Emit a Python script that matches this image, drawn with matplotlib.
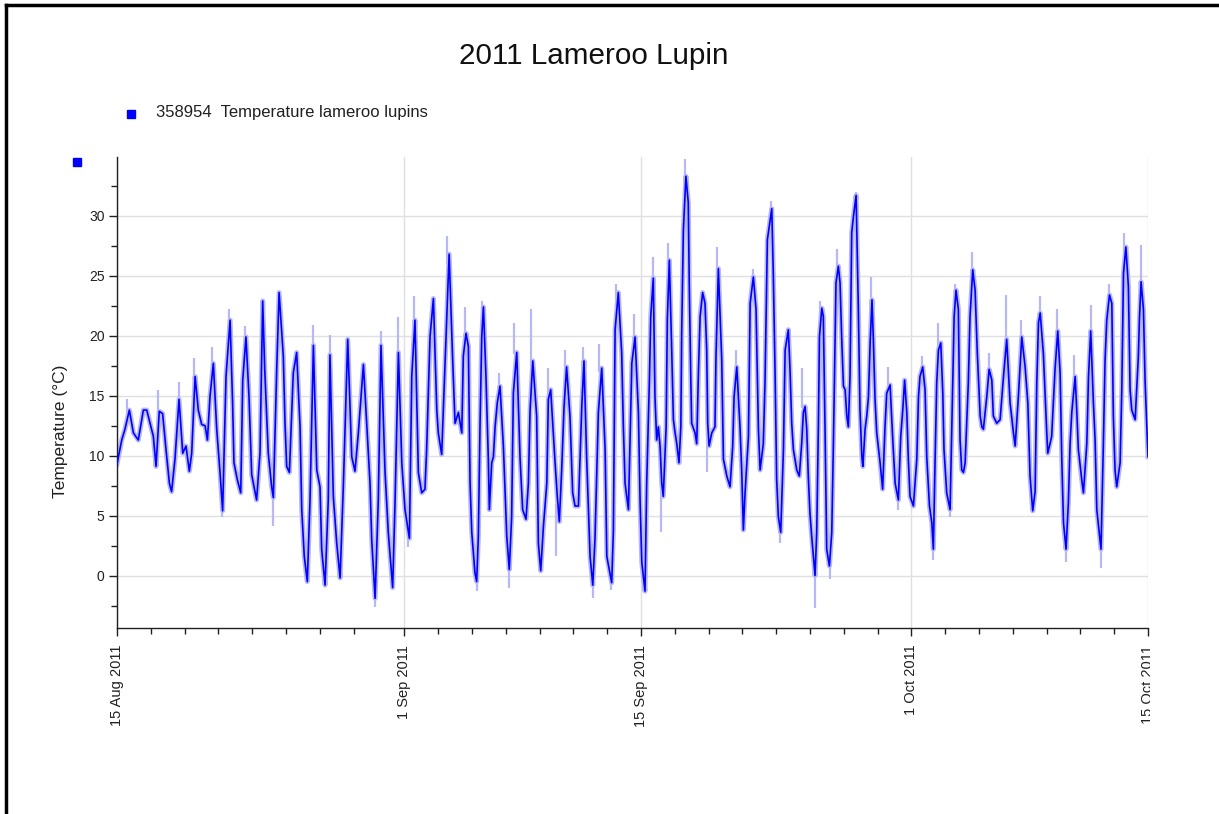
import numpy as np
import pandas as pd
import matplotlib
matplotlib.use("Agg")
import matplotlib.pyplot as plt
import matplotlib.dates as mdates
from matplotlib.lines import Line2D
from matplotlib.transforms import Bbox

plt.rcParams['font.family'] = ['Liberation Sans', 'DejaVu Sans']

start = pd.Timestamp('2011-08-15')

# knots of the logged series: days after 15 Aug 2011, temperature (C)
days = [0.00, 0.28, 0.47, 0.73, 0.97, 1.26, 1.56, 1.76, 2.15, 2.31, 2.50, 2.70, 2.90, 3.10, 3.23, 3.43,
        3.67, 3.89, 4.08, 4.28, 4.42, 4.62, 4.81, 5.01, 5.21, 5.35, 5.50, 5.70, 5.90, 6.09, 6.25, 6.45,
        6.69, 6.84, 6.92, 7.12, 7.32, 7.44, 7.63, 7.81, 7.97, 8.26, 8.46, 8.62, 8.74, 8.95, 9.15, 9.25,
        9.45, 9.59,
        9.84, 9.94, 10.04, 10.20, 10.43, 10.63, 10.83, 10.93, 11.08, 11.26, 11.42, 11.62, 11.82, 12.01,
        12.11, 12.31, 12.50, 12.60, 12.80, 13.00, 13.20, 13.39, 13.65, 13.89, 14.08, 14.28, 14.58, 14.77,
        14.97, 15.07, 15.27, 15.46, 15.62, 15.86, 16.05, 16.31, 16.45, 16.65, 16.85, 17.04, 17.30, 17.44,
        17.63, 17.83, 18.03, 18.22, 18.32, 18.52, 18.72, 18.92, 19.01, 19.21, 19.41, 19.65,
        19.86, 20.00, 20.20, 20.40, 20.49, 20.65, 20.79, 20.89, 20.99, 21.18, 21.28, 21.38, 21.48, 21.58,
        21.68, 21.83, 21.97, 22.03, 22.17, 22.27, 22.37, 22.50, 22.66, 22.86, 23.06, 23.21, 23.35, 23.45,
        23.65, 23.85, 24.00, 24.20, 24.34, 24.44, 24.60, 24.83, 24.93, 25.07, 25.23, 25.43, 25.52, 25.66,
        25.92, 26.05, 26.17, 26.31, 26.45, 26.60, 26.80, 26.96, 27.10, 27.30, 27.50, 27.63, 27.79, 27.99,
        28.15, 28.28, 28.48, 28.68, 28.88, 28.98, 29.27, 29.37, 29.47, 29.66,
        29.86, 29.96, 30.06, 30.26, 30.46, 30.65, 30.85, 30.95, 31.05, 31.24, 31.34, 31.50, 31.58, 31.73,
        31.83, 31.93, 32.03, 32.13, 32.23, 32.32, 32.49, 32.56, 32.68, 32.82, 32.92, 33.02, 33.12, 33.25,
        33.36, 33.41, 33.51, 33.66, 33.80, 33.86, 33.95, 34.00, 34.20, 34.30, 34.40, 34.50, 34.65, 34.79,
        34.89, 34.95, 35.03, 35.19, 35.38, 35.44, 35.58, 35.78, 35.88, 36.08, 36.27, 36.43, 36.51, 36.67,
        36.86, 36.96, 37.06, 37.16, 37.36, 37.46, 37.65, 37.81, 37.95, 38.05, 38.24, 38.34, 38.48, 38.74,
        38.83, 38.93, 39.03, 39.13, 39.27, 39.43, 39.53, 39.72,
        39.82, 39.92, 40.02, 40.22, 40.37, 40.51, 40.61, 40.71, 40.81, 40.90, 41.00, 41.10, 41.30, 41.40,
        41.50, 41.56, 41.70, 41.79, 41.89, 41.99, 42.15, 42.29, 42.39, 42.49, 42.54, 42.68, 42.78, 42.88,
        42.98, 43.08, 43.18, 43.27, 43.37, 43.47, 43.57, 43.73, 43.86, 43.96, 44.07, 44.13, 44.26, 44.36,
        44.46, 44.56, 44.67, 44.75, 44.85, 44.95, 45.15, 45.30, 45.44, 45.54, 45.74, 45.90, 46.04, 46.23,
        46.37, 46.49, 46.60, 46.73, 46.82, 46.92, 47.12, 47.32, 47.42, 47.51, 47.67, 47.81, 47.91, 48.07,
        48.21, 48.30, 48.40, 48.50, 48.60, 48.74, 48.86, 48.93, 49.09, 49.29, 49.45, 49.53, 49.64,
        49.78, 49.88, 49.98, 50.08, 50.18, 50.37, 50.47, 50.63, 50.77, 50.90, 51.07, 51.17, 51.26, 51.46,
        51.60, 51.76, 51.85, 52.05, 52.25, 52.45, 52.64, 52.84, 53.04, 53.14, 53.33, 53.43, 53.53, 53.73,
        53.89, 54.02, 54.18, 54.32, 54.42, 54.52, 54.62, 54.81, 54.91, 55.01, 55.07, 55.30, 55.50, 55.66,
        55.80, 55.90, 56.00, 56.15, 56.29, 56.39, 56.49, 56.69, 56.79, 56.88, 57.08, 57.18, 57.38, 57.48,
        57.61, 57.77, 57.87, 57.97, 58.22, 58.36, 58.46, 58.56, 58.72, 58.86, 58.95, 59.05, 59.15, 59.35,
        59.45, 59.55, 59.69, 59.84, 59.94, 60.04, 60.24, 60.43, 60.49, 60.59, 60.73, 60.83, 60.92, 61.00]

temps = [9.3, 11.3, 12.2, 13.8, 11.9, 11.3, 13.8, 13.8, 11.6, 9.1, 13.7, 13.5, 10.5, 7.7, 7.0, 9.7,
         14.7, 10.2, 10.8, 8.7, 10.2, 16.6, 13.8, 12.6, 12.5, 11.3, 14.9, 17.7, 12.2, 8.7, 5.4, 16.6,
         21.3, 14.4, 9.4, 8.0, 6.9, 16.3, 19.9, 14.9, 8.4, 6.3, 10.2, 22.9, 17.2, 10.2, 7.4, 6.5,
         17.2, 23.6,
         18.3, 12.7, 9.1, 8.6, 16.9, 18.6, 12.4, 5.5, 1.6, -0.5, 6.3, 19.2, 8.8, 7.4,
         2.2, -0.8, 6.3, 18.4, 6.6, 2.7, -0.2, 7.4, 19.7, 9.9, 8.7, 11.9, 17.6, 12.7,
         7.7, 3.0, -1.9, 6.3, 19.2, 8.6, 3.6, -1.0, 6.1, 18.6, 9.4, 5.5, 3.1, 16.6,
         21.3, 8.6, 6.9, 7.2, 10.5, 19.9, 23.1, 13.8, 11.9, 10.1, 17.7, 26.8,
         18.0, 12.7, 13.6, 11.9, 18.3, 20.2, 19.1, 7.7, 3.6, 0.2, -0.5, 3.3, 12.7, 19.9,
         22.4, 16.6, 9.7, 5.5, 9.4, 9.9, 12.4, 14.4, 15.8, 10.8, 3.3, 0.5, 4.9, 15.2,
         18.6, 9.7, 5.5, 4.7, 7.7, 13.8, 17.9, 13.3, 2.7, 0.4, 4.1, 7.7, 14.7, 15.5,
         9.4, 6.6, 4.5, 8.8, 14.1, 17.4, 13.3, 6.9, 5.8, 5.8, 14.1, 17.9, 9.7, 1.6,
         -0.8, 3.0, 13.6, 17.3, 10.5, 1.6, -0.6, 3.8, 20.5, 23.6,
         18.6, 12.4, 7.7, 5.5, 17.7, 19.9, 13.6, 6.1, 1.1, -1.3, 7.7, 16.3, 21.6, 24.8,
         14.9, 11.3, 12.4, 10.8, 7.7, 6.6, 12.4, 21.3, 26.3, 18.8, 13.0, 11.9, 11.0, 9.4,
         12.4, 20.2, 28.8, 33.3, 31.1, 24.1, 16.3, 12.7, 11.9, 11.0, 16.9, 21.6, 23.6, 22.7,
         18.8, 12.7, 10.8, 11.9, 12.4, 18.3, 25.6, 18.0, 9.7, 8.3, 7.4, 10.8, 14.9, 17.4,
         12.4, 8.8, 3.8, 6.9, 11.6, 22.7, 24.9, 22.2, 12.2, 8.8, 11.0, 16.1, 28.0, 30.6,
         25.2, 17.4, 8.0, 4.9, 3.6, 10.5, 18.8, 20.5,
         17.2, 12.7, 10.5, 8.8, 8.3, 11.0, 13.6, 14.1, 12.2, 8.3, 5.2, 3.3, 0.0, 3.6,
         12.7, 19.9, 22.3, 21.6, 12.4, 2.2, 0.8, 3.6, 11.3, 19.9, 24.4, 25.8, 24.4, 19.7,
         15.8, 15.5, 13.3, 12.4, 16.6, 28.6, 29.9, 31.7, 22.4, 13.8, 9.9, 9.1, 12.2, 13.3,
         14.9, 19.4, 23.0, 19.7, 14.7, 11.9, 9.4, 7.2, 12.4, 15.2, 15.9, 11.3, 7.7, 6.3,
         11.6, 13.8, 16.3, 13.6, 9.7, 6.6, 5.8, 9.7, 14.9, 16.6, 17.4, 15.5, 9.9, 5.8,
         4.4, 2.2, 9.4, 16.1, 18.8, 19.4, 15.2, 10.5, 6.9, 5.5, 16.1, 21.6, 23.8,
         22.2, 11.3, 8.8, 8.6, 9.4, 16.1, 21.6, 25.5, 23.8, 18.6, 13.3, 12.4, 12.2, 14.9,
         17.2, 16.3, 13.3, 12.7, 13.0, 16.6, 19.7, 14.4, 11.9, 10.8, 14.9, 17.4, 19.9, 17.4,
         14.4, 8.3, 5.4, 7.0, 16.1, 21.1, 21.9, 18.5, 15.2, 11.9, 10.2, 11.6, 17.2, 20.4,
         16.9, 9.7, 4.4, 2.2, 6.1, 11.0, 13.6, 16.6, 13.6, 10.5, 8.0, 6.9, 11.0, 16.6,
         20.4, 14.4, 11.3, 5.5, 2.2, 11.0, 18.0, 21.3, 23.4, 22.7, 13.3, 8.8, 7.4, 9.4,
         15.5, 25.2, 27.4, 24.1, 15.5, 13.8, 13.0, 18.3, 21.3, 24.5, 22.2, 16.1, 12.7, 9.9]

# faint min/max excursions around the main trace: day, trace value, excursion value
spike_day = [0.6, 2.4, 3.65, 4.55, 5.6, 6.2, 6.6, 7.6, 8.55, 9.25, 11.6, 12.6, 15.27, 15.6, 16.6,
             17.2, 17.6, 19.5, 20.6, 21.3, 21.6, 22.6, 23.2, 23.5, 24.5, 25.5, 26.0, 26.5, 27.6,
             28.15, 28.5, 29.2, 29.5, 30.6, 31.7, 32.2, 32.6, 33.6, 34.9, 35.5, 36.6, 37.6, 38.7,
             39.2, 40.5, 41.3, 41.6, 42.2, 42.6, 43.7, 44.6, 45.6, 46.2, 47.6, 48.3, 48.6, 49.3,
             49.6, 50.6, 51.6, 52.6, 53.5, 54.6, 55.6, 56.15, 56.6, 57.6, 58.2, 58.7, 59.6, 60.6]
spike_base = [13.5, 13.5, 14.5, 16.0, 17.0, 5.5, 21.0, 19.5, 22.0, 6.5, 19.0, 18.0, -1.9, 19.0, 18.5,
              3.5, 21.0, 26.0, 20.0, -0.5, 22.0, 15.5, 0.5, 18.5, 17.5, 15.0, 6.0, 17.0, 17.5,
              -0.8, 17.0, -0.6, 23.0, 19.5, 24.5, 7.5, 26.0, 33.0, 12.0, 25.0, 17.0, 24.5, 30.5,
              3.6, 14.0, 0.0, 21.0, 0.8, 25.5, 31.5, 22.5, 15.5, 6.3, 17.0, 2.2, 19.0, 5.5,
              23.5, 25.0, 17.0, 19.5, 19.5, 21.5, 20.0, 2.2, 16.5, 20.0, 2.2, 23.0, 27.0, 24.5]
spike_tip = [14.7, 15.5, 16.1, 18.1, 19.1, 4.9, 22.2, 20.8, 23.1, 4.1, 20.9, 20.1, -2.6, 20.4, 21.6,
             2.4, 23.3, 28.3, 22.4, -1.3, 22.9, 16.9, -1.0, 21.1, 22.2, 17.3, 1.6, 18.8, 19.1,
             -1.9, 19.3, -1.2, 24.3, 21.8, 26.6, 3.6, 27.7, 34.7, 8.6, 27.4, 18.8, 25.6, 31.2,
             2.7, 17.3, -2.7, 22.9, -0.3, 27.2, 32.0, 24.9, 17.4, 5.5, 18.3, 1.3, 21.1, 4.9,
             24.3, 27.0, 18.6, 23.4, 21.3, 23.3, 22.2, 1.1, 18.4, 22.6, 0.6, 24.3, 28.6, 27.6]

y_ticks = [0, 5, 10, 15, 20, 25, 30]
date_ticks = ['2011-08-15', '2011-09-01', '2011-09-15', '2011-10-01', '2011-10-15']
date_labels = ['15 Aug 2011', '1 Sep 2011', '15 Sep 2011', '1 Oct 2011', '15 Oct 2011']

W, H = 1219, 814
fig = plt.figure(figsize=(W / 100, H / 100), dpi=100)
ax = fig.add_axes([117 / W, 1 - 628 / H, (1148 - 117) / W, (628 - 157) / H])

t = start + pd.to_timedelta(days, unit='D')
ts = start + pd.to_timedelta(spike_day, unit='D')

light = '#b8b8f6'
ax.vlines(ts, spike_base, spike_tip, color=light, lw=1.6, zorder=2)
ax.plot(t, temps, color=light, lw=3.6, zorder=2)
ax.plot(t, temps, color='#0000ff', lw=1.2, zorder=3)

ax.set_xlim(start, pd.Timestamp(date_ticks[-1]))
ax.set_ylim(-4.37, 34.9)

ax.set_yticks(y_ticks)
ax.yaxis.set_minor_locator(matplotlib.ticker.MultipleLocator(2.5))
ax.set_xticks([pd.Timestamp(d) for d in date_ticks])
# the last label is drawn separately below, cut at the chart edge
ax.set_xticklabels(date_labels[:-1] + [''], rotation=90, va='top', ha='center')
ax.xaxis.set_minor_locator(mdates.DayLocator(bymonthday=range(3, 31, 2)))

ax.grid(True, which='major', color='#e0e0e0', lw=1.0, zorder=0)
ax.set_axisbelow(True)
for s in ['top', 'right']:
    ax.spines[s].set_visible(False)
for s in ['left', 'bottom']:
    ax.spines[s].set_color('#202020')
    ax.spines[s].set_linewidth(1.0)

ax.tick_params(axis='y', which='major', length=6, width=1, labelsize=10, pad=3, colors='#202020')
ax.tick_params(axis='y', which='minor', length=4, width=1, colors='#202020')
ax.tick_params(axis='x', which='major', length=6, width=1, labelsize=10.5, pad=6, colors='#202020')
ax.tick_params(axis='x', which='minor', length=4, width=1, colors='#202020')

ax.set_ylabel('Temperature (°C)', fontsize=12.5, color='#202020')
ax.yaxis.set_label_coords((68 - 117) / 1031, (628 - 431) / 471)

last = fig.text(1148 / W, 1 - 645 / H, date_labels[-1], rotation=90, ha='center', va='top',
                fontsize=10.5, color='#202020')
last.set_clip_box(Bbox([[0, 0], [1150, H]]))
last.set_clip_on(True)

fig.text(594 / W, 1 - 56 / H, '2011 Lameroo Lupin', fontsize=21.3, ha='center', va='center', color='#101010')

# legend entry and the stray marker above the axis
fig.add_artist(Line2D([131 / W], [1 - 114 / H], marker='s', ms=6, color='#0000ff', ls='none'))
fig.add_artist(Line2D([77 / W], [1 - 162 / H], marker='s', ms=6, color='#0000ff', ls='none'))
fig.text(156 / W, 1 - 112 / H, '358954  Temperature lameroo lupins', fontsize=12, ha='left', va='center',
         color='#202020')

# outer frame on the left and top edges
fig.add_artist(Line2D([6 / W, 6 / W], [0, 1 - 5 / H], color='black', lw=2.5))
fig.add_artist(Line2D([6 / W, 1], [1 - 5 / H, 1 - 5 / H], color='black', lw=2.5))

fig.savefig('out.png', dpi=100)
